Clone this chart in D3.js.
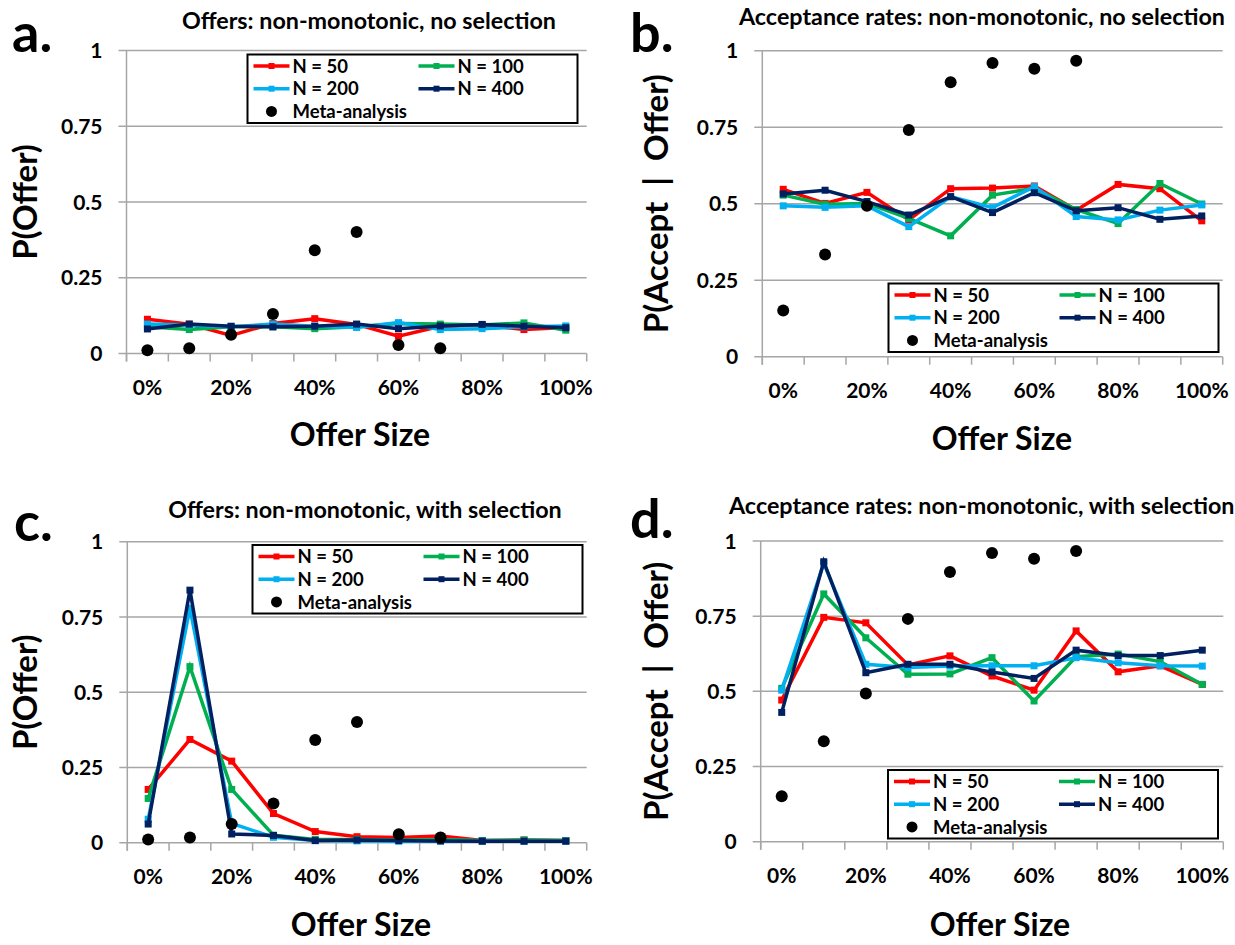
<!DOCTYPE html>
<html>
<head>
<meta charset="utf-8">
<script src="https://cdn.jsdelivr.net/npm/d3@7"></script>
<style>
  body { margin: 0; background: #fff; }
  svg text { font-family: Lato, "Open Sans", sans-serif; font-weight: 700; fill: #000; }
</style>
</head>
<body>
<svg id="fig" width="1235" height="945"></svg>
<script>
"use strict";

// offer sizes (x categories) and the labels shown on the axis
var categories = ["0%", "10%", "20%", "30%", "40%", "50%", "60%", "70%", "80%", "90%", "100%"];
var tickLabels = ["0%", "20%", "40%", "60%", "80%", "100%"];
var yTicks = [0, 0.25, 0.5, 0.75, 1];
var yTickLabels = ["0", "0.25", "0.5", "0.75", "1"];
var seriesNames = ["N = 50", "N = 100", "N = 200", "N = 400"];
var seriesColors = ["#ff0000", "#00b050", "#00b0f0", "#002060"];

// meta-analysis (0% .. 70%)
var metaCategories = ["0%", "10%", "20%", "30%", "40%", "50%", "60%", "70%"];
var metaOffers = [0.011, 0.017, 0.062, 0.130, 0.341, 0.401, 0.028, 0.017];
var metaAccept = [0.151, 0.334, 0.493, 0.741, 0.897, 0.960, 0.941, 0.967];

// a. offers, no selection
var offersNoSel50 = [0.113, 0.097, 0.060, 0.099, 0.115, 0.096, 0.057, 0.090, 0.094, 0.079, 0.086];
var offersNoSel100 = [0.088, 0.079, 0.088, 0.088, 0.082, 0.088, 0.099, 0.097, 0.094, 0.101, 0.077];
var offersNoSel200 = [0.097, 0.094, 0.088, 0.097, 0.090, 0.086, 0.102, 0.079, 0.082, 0.088, 0.091];
var offersNoSel400 = [0.081, 0.097, 0.090, 0.088, 0.090, 0.097, 0.082, 0.091, 0.096, 0.090, 0.085];

// b. acceptance, no selection
var acceptNoSel50 = [0.547, 0.501, 0.537, 0.447, 0.549, 0.551, 0.558, 0.479, 0.563, 0.549, 0.444];
var acceptNoSel100 = [0.528, 0.498, 0.501, 0.452, 0.395, 0.528, 0.550, 0.481, 0.435, 0.566, 0.499];
var acceptNoSel200 = [0.493, 0.488, 0.493, 0.425, 0.523, 0.487, 0.556, 0.458, 0.447, 0.479, 0.496];
var acceptNoSel400 = [0.532, 0.544, 0.507, 0.463, 0.523, 0.471, 0.536, 0.477, 0.487, 0.449, 0.460];

// c. offers, with selection
var offersSel50 = [0.177, 0.343, 0.271, 0.097, 0.037, 0.020, 0.017, 0.022, 0.007, 0.009, 0.007];
var offersSel100 = [0.147, 0.585, 0.177, 0.025, 0.011, 0.011, 0.009, 0.011, 0.007, 0.009, 0.007];
var offersSel200 = [0.078, 0.779, 0.064, 0.018, 0.007, 0.006, 0.005, 0.005, 0.005, 0.005, 0.005];
var offersSel400 = [0.062, 0.839, 0.029, 0.024, 0.007, 0.009, 0.007, 0.006, 0.005, 0.005, 0.005];

// d. acceptance, with selection
var acceptSel50 = [0.471, 0.746, 0.728, 0.588, 0.618, 0.551, 0.504, 0.701, 0.565, 0.585, 0.523];
var acceptSel100 = [0.510, 0.824, 0.678, 0.557, 0.558, 0.612, 0.468, 0.615, 0.624, 0.599, 0.523];
var acceptSel200 = [0.504, 0.926, 0.590, 0.579, 0.584, 0.585, 0.585, 0.612, 0.595, 0.585, 0.584];
var acceptSel400 = [0.430, 0.931, 0.562, 0.590, 0.590, 0.564, 0.543, 0.637, 0.619, 0.619, 0.637];

var panels = [
    {
        letter: "a.", letterX: 12, letterY: 52,
        title: "Offers: non-monotonic, no selection", titleX: 369, titleY: 29, titleAnchor: "middle",
        yLabel: "P(Offer)", yLabelX: 25,
        left: 126.5, right: 586.7, top: 50.5, bottom: 353.5,
        xTitleX: 360, xTitleY: 446,
        series: [offersNoSel50, offersNoSel100, offersNoSel200, offersNoSel400],
        meta: metaOffers,
        legendX: 247.5, legendY: 54.5
    },
    {
        letter: "b.", letterX: 630, letterY: 52,
        title: "Acceptance rates: non-monotonic, no selection", titleX: 1225, titleY: 25, titleAnchor: "end",
        yLabel: "P(Accept  |  Offer)", yLabelX: 656,
        left: 762.3, right: 1222.7, top: 50.7, bottom: 356.7,
        xTitleX: 1002, xTitleY: 450,
        series: [acceptNoSel50, acceptNoSel100, acceptNoSel200, acceptNoSel400],
        meta: metaAccept,
        legendX: 888.5, legendY: 283.5
    },
    {
        letter: "c.", letterX: 14, letterY: 541,
        title: "Offers: non-monotonic, with selection", titleX: 365, titleY: 518, titleAnchor: "middle",
        yLabel: "P(Offer)", yLabelX: 25,
        left: 127.3, right: 586.7, top: 541.7, bottom: 842.7,
        xTitleX: 361, xTitleY: 936,
        series: [offersSel50, offersSel100, offersSel200, offersSel400],
        meta: metaOffers,
        legendX: 252.5, legendY: 545
    },
    {
        letter: "d.", letterX: 630, letterY: 538,
        title: "Acceptance rates: non-monotonic, with selection", titleX: 729, titleY: 514, titleAnchor: "start",
        yLabel: "P(Accept  |  Offer)", yLabelX: 656,
        left: 760.7, right: 1223.3, top: 541, bottom: 841.7,
        xTitleX: 1000, xTitleY: 936,
        series: [acceptSel50, acceptSel100, acceptSel200, acceptSel400],
        meta: metaAccept,
        legendX: 888, legendY: 770
    }
];

var svg = d3.select("#fig");
var gridColor = "#a6a6a6";

function drawPanel(p) {
    var g = svg.append("g");

    var x = d3.scaleBand().domain(categories).range([p.left, p.right]);
    var y = d3.scaleLinear().domain([0, 1]).range([p.bottom, p.top]);
    var cx = function (c) { return x(c) + x.bandwidth() / 2; };

    // horizontal gridlines (they run a little past the axis, like tick marks)
    g.append("g").selectAll("line")
        .data(yTicks)
        .join("line")
        .attr("x1", p.left - 8)
        .attr("x2", p.right)
        .attr("y1", function (d) { return y(d); })
        .attr("y2", function (d) { return y(d); })
        .attr("stroke", gridColor)
        .attr("stroke-width", 1.5);

    g.append("line")
        .attr("x1", p.left).attr("x2", p.left)
        .attr("y1", y(0) + 8).attr("y2", y(1))
        .attr("stroke", gridColor)
        .attr("stroke-width", 1.5);

    // x ticks sit on the category boundaries
    var edges = categories.map(function (c) { return x(c); }).concat([p.right]);
    g.append("g").selectAll("line")
        .data(edges)
        .join("line")
        .attr("x1", function (d) { return d; })
        .attr("x2", function (d) { return d; })
        .attr("y1", y(0))
        .attr("y2", y(0) + 8)
        .attr("stroke", gridColor)
        .attr("stroke-width", 1.5);

    g.append("g").selectAll("text")
        .data(yTicks)
        .join("text")
        .attr("x", p.left - 24)
        .attr("y", function (d) { return y(d); })
        .attr("dy", "0.36em")
        .attr("text-anchor", "end")
        .style("font-size", "21px")
        .text(function (d, i) { return yTickLabels[i]; });

    g.append("g").selectAll("text")
        .data(tickLabels)
        .join("text")
        .attr("x", cx)
        .attr("y", y(0) + 33.5)
        .attr("dy", "0.36em")
        .attr("text-anchor", "middle")
        .style("font-size", "21px")
        .text(function (d) { return d; });

    // titles
    g.append("text")
        .attr("x", p.letterX).attr("y", p.letterY)
        .style("font-size", "54px")
        .text(p.letter);

    g.append("text")
        .attr("x", p.titleX).attr("y", p.titleY)
        .attr("text-anchor", p.titleAnchor)
        .style("font-size", "23.3px")
        .text(p.title);

    g.append("text")
        .attr("transform", "translate(" + p.yLabelX + "," + ((p.top + p.bottom) / 2) + ") rotate(-90)")
        .attr("dy", "0.36em")
        .attr("text-anchor", "middle")
        .style("font-size", "33px")
        .style("white-space", "pre")
        .text(p.yLabel);

    g.append("text")
        .attr("x", p.xTitleX).attr("y", p.xTitleY)
        .attr("text-anchor", "middle")
        .style("font-size", "32px")
        .text("Offer Size");

    drawLegend(g, p.legendX, p.legendY);

    var line = d3.line()
        .x(function (d, i) { return cx(categories[i]); })
        .y(function (d) { return y(d); });

    p.series.forEach(function (s, k) {
        var sg = g.append("g");
        sg.append("path")
            .datum(s)
            .attr("d", line)
            .attr("fill", "none")
            .attr("stroke", seriesColors[k])
            .attr("stroke-width", 3.5)
            .attr("stroke-linejoin", "miter");
        sg.selectAll("rect")
            .data(s)
            .join("rect")
            .attr("x", function (d, i) { return cx(categories[i]) - 3.5; })
            .attr("y", function (d) { return y(d) - 3.5; })
            .attr("width", 7)
            .attr("height", 7)
            .attr("fill", seriesColors[k]);
    });

    g.append("g").selectAll("circle")
        .data(p.meta)
        .join("circle")
        .attr("cx", function (d, i) { return cx(metaCategories[i]); })
        .attr("cy", function (d) { return y(d); })
        .attr("r", 6)
        .attr("fill", "#000");
}

function drawLegend(g, lx, ly) {
    var lg = g.append("g").attr("transform", "translate(" + lx + "," + ly + ")");
    lg.append("rect")
        .attr("width", 330)
        .attr("height", 68.5)
        .attr("fill", "#fff")
        .attr("stroke", "#000")
        .attr("stroke-width", 2);

    var items = lg.selectAll("g.item")
        .data(seriesNames)
        .join("g")
        .attr("class", "item")
        .attr("transform", function (d, i) {
            return "translate(" + (6 + (i % 2) * 165) + "," + (11.5 + Math.floor(i / 2) * 22.7) + ")";
        });
    items.append("line")
        .attr("x1", 0).attr("x2", 36)
        .attr("stroke", function (d, i) { return seriesColors[i]; })
        .attr("stroke-width", 3.5);
    items.append("rect")
        .attr("x", 15).attr("y", -3).attr("width", 6).attr("height", 6)
        .attr("fill", function (d, i) { return seriesColors[i]; });
    items.append("text")
        .attr("x", 39)
        .attr("dy", "0.36em")
        .style("font-size", "18.5px")
        .text(function (d) { return d; });

    var meta = lg.append("g").attr("transform", "translate(6," + (11.5 + 2 * 22.7) + ")");
    meta.append("circle").attr("cx", 18).attr("r", 5.5).attr("fill", "#000");
    meta.append("text")
        .attr("x", 39)
        .attr("dy", "0.36em")
        .style("font-size", "18.5px")
        .text("Meta-analysis");
}

panels.forEach(drawPanel);
</script>
</body>
</html>
